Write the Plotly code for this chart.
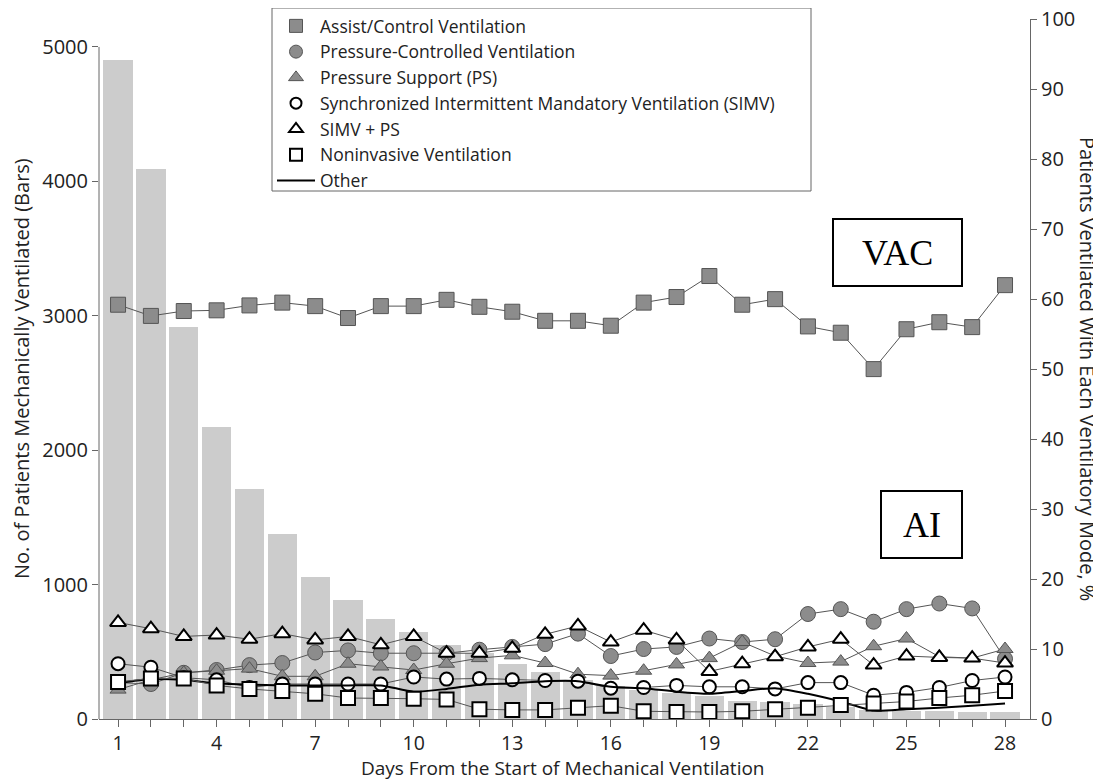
import plotly.graph_objects as go

days = list(range(1, 29))
tick_labels = [str(d) if (d - 1) % 3 == 0 else "" for d in days]
left_ticks = [0, 1000, 2000, 3000, 4000, 5000]
right_ticks = [0, 10, 20, 30, 40, 50, 60, 70, 80, 90, 100]

patients_bars = [4900, 4090, 2920, 2170, 1710, 1380, 1055, 888, 747, 645, 551, 490, 410, 347,
                 290, 245, 216, 191, 171, 136, 129, 112, 92, 67, 60, 58, 54, 54]

assist_control = [59.2, 57.6, 58.3, 58.4, 59.1, 59.5, 59.0, 57.3, 59.0, 59.0, 59.9, 58.9, 58.2, 56.9,
                  56.9, 56.2, 59.5, 60.3, 63.3, 59.2, 60.0, 56.1, 55.2, 50.0, 55.7, 56.7, 56.0, 62.0]
pressure_controlled = [5.2, 5.0, 6.6, 7.0, 7.7, 8.0, 9.5, 9.8, 9.4, 9.4, 9.4, 9.9, 10.3, 10.7,
                       12.2, 9.0, 10.0, 10.3, 11.5, 11.0, 11.4, 15.0, 15.7, 13.9, 15.7, 16.5, 15.8, 8.6]
pressure_support = [4.2, 5.6, 6.6, 6.9, 7.2, 6.1, 6.1, 7.9, 7.5, 7.0, 7.9, 8.7, 9.1, 8.0,
                    6.4, 6.2, 6.9, 7.8, 8.7, 11.0, 9.0, 8.0, 8.2, 10.4, 11.5, 8.9, 8.7, 10.0]
simv = [7.9, 7.4, 5.9, 5.6, 4.5, 5.0, 5.0, 5.0, 5.0, 6.0, 5.7, 5.8, 5.6, 5.5,
        5.4, 4.4, 4.5, 4.8, 4.6, 4.6, 4.3, 5.2, 5.2, 3.4, 3.8, 4.5, 5.5, 6.0]
simv_ps = [13.8, 12.9, 11.8, 12.0, 11.4, 12.2, 11.3, 11.8, 10.6, 11.8, 9.4, 9.4, 10.1, 12.1,
           13.3, 11.0, 12.7, 11.3, 6.8, 7.9, 8.9, 10.3, 11.4, 7.7, 9.0, 8.8, 8.7, 8.0]
noninvasive = [5.3, 5.8, 5.8, 4.8, 4.3, 4.0, 3.6, 3.0, 3.0, 2.9, 2.8, 1.4, 1.3, 1.3,
               1.6, 1.9, 1.1, 1.0, 1.0, 1.1, 1.4, 1.6, 2.0, 2.2, 2.5, 3.0, 3.4, 4.0]
other = [5.1, 5.7, 5.6, 5.1, 4.9, 4.8, 4.8, 4.8, 4.8, 3.9, 4.3, 4.9, 5.1, 5.4,
         5.4, 4.6, 4.4, 3.9, 3.6, 4.0, 4.4, 3.6, 2.5, 1.2, 1.4, 1.6, 1.9, 2.2]

GRAY_FILL = "#8c8c8c"
GRAY_EDGE = "#555555"
CONNECT = "#555555"
FONT = "Open Sans"
TXT = "#222222"

gray_marker = dict(color=GRAY_FILL, line=dict(color=GRAY_EDGE, width=1))
open_marker = dict(color="white", line=dict(color="black", width=2))

fig = go.Figure()
fig.add_trace(go.Bar(x=days, y=patients_bars, width=0.89, marker=dict(color="#cccccc", line=dict(width=0)),
                     showlegend=False, yaxis="y"))

def add_series(name, vals, sym, size, mk):
    fig.add_trace(go.Scatter(x=days, y=vals, mode="lines+markers", yaxis="y2", showlegend=False, name=name,
                             line=dict(color=CONNECT, width=1),
                             marker=dict(symbol=sym, size=size, **mk)))

add_series("Pressure-Controlled Ventilation", pressure_controlled, "circle", 15, gray_marker)
add_series("Pressure Support (PS)", pressure_support, "triangle-up", 14, gray_marker)
add_series("Synchronized Intermittent Mandatory Ventilation (SIMV)", simv, "circle", 13, open_marker)
fig.add_trace(go.Scatter(x=days, y=other, mode="lines", yaxis="y2", showlegend=False, name="Other",
                         line=dict(color="black", width=2, shape="spline", smoothing=0.6)))
add_series("SIMV + PS", simv_ps, "triangle-up", 14, open_marker)
add_series("Noninvasive Ventilation", noninvasive, "square", 14, open_marker)
add_series("Assist/Control Ventilation", assist_control, "square", 15, gray_marker)

# legend-only entries
legend_items = [
    ("Assist/Control Ventilation", "square", 13, gray_marker),
    ("Pressure-Controlled Ventilation", "circle", 13, gray_marker),
    ("Pressure Support (PS)", "triangle-up", 13, gray_marker),
    ("Synchronized Intermittent Mandatory Ventilation (SIMV)", "circle", 11, open_marker),
    ("SIMV + PS", "triangle-up", 12, open_marker),
    ("Noninvasive Ventilation", "square", 12, open_marker),
]
for name, sym, size, mk in legend_items:
    fig.add_trace(go.Scatter(x=[None], y=[None], mode="markers", name=name, yaxis="y2",
                             marker=dict(symbol=sym, size=size, **mk)))
fig.add_trace(go.Scatter(x=[None], y=[None], mode="lines", name="Other", yaxis="y2",
                         line=dict(color="black", width=2)))

# page-pixel -> paper conversions (paper spans page y 8..719, x 99..1030)
def px(xp):
    return (xp - 99) / 931

def py(yp):
    return (719 - yp) / 711

DOM_TOP = 700 / 711

fig.update_layout(
    width=1101, height=781,
    margin=dict(l=91, r=79, t=0, b=70),
    plot_bgcolor="white", paper_bgcolor="white",
    font=dict(family=FONT, size=20, color=TXT),
    bargap=0,
    xaxis=dict(range=[0.42, 28.76], tickmode="array", tickvals=days, ticktext=tick_labels,
               ticks="outside", ticklen=7, tickcolor="#666", showline=True, linecolor="#666",
               showgrid=False, zeroline=False, tickfont=dict(size=19.5, color=TXT), automargin=False),
    yaxis=dict(domain=[0, DOM_TOP], range=[0, 5208], tickmode="array", tickvals=left_ticks,
               ticks="outside", ticklen=6, tickcolor="#666", showline=False, showgrid=False, zeroline=False,
               tickfont=dict(size=20, color=TXT), automargin=False),
    yaxis2=dict(domain=[0, DOM_TOP], range=[0, 100.03], tickmode="array", tickvals=right_ticks,
                overlaying="y", side="right",
                ticks="outside", ticklen=6, tickcolor="#666", showline=True, linecolor="#666",
                showgrid=False, zeroline=False, tickfont=dict(size=20, color=TXT), automargin=False,
                ticklabeloverflow="allow"),
    legend=dict(x=px(272), y=1.0, xanchor="left", yanchor="top",
                borderwidth=0, bgcolor="rgba(0,0,0,0)",
                font=dict(size=17.5, color=TXT), itemwidth=38, tracegroupgap=0),
    shapes=[
        dict(type="line", xref="paper", yref="y", x0=0, x1=0, y0=0, y1=5000,
             line=dict(color="#666", width=1)),
        dict(type="rect", xref="paper", yref="paper", layer="below",
             x0=px(272), x1=px(811), y0=py(191), y1=py(8),
             line=dict(color="#666", width=1), fillcolor="white"),
        dict(type="rect", xref="paper", yref="paper",
             x0=px(833), x1=px(962), y0=py(286), y1=py(219),
             line=dict(color="black", width=2), fillcolor="white"),
        dict(type="rect", xref="paper", yref="paper",
             x0=px(881), x1=px(962), y0=py(558), y1=py(491),
             line=dict(color="black", width=2), fillcolor="white"),
    ],
    annotations=[
        dict(text="VAC", xref="paper", yref="paper", x=px(897.5), y=py(252.5),
             showarrow=False, font=dict(family="Liberation Serif", size=36, color="black"),
             xanchor="center", yanchor="middle"),
        dict(text="AI", xref="paper", yref="paper", x=px(921.5), y=py(524.5),
             showarrow=False, font=dict(family="Liberation Serif", size=36, color="black"),
             xanchor="center", yanchor="middle"),
        dict(text="Days From the Start of Mechanical Ventilation", xref="paper", yref="paper",
             x=px(563), y=py(768), showarrow=False, borderpad=0,
             font=dict(size=19, color=TXT), xanchor="center", yanchor="middle"),
        dict(text="No. of Patients Mechanically Ventilated (Bars)", xref="paper", yref="paper",
             x=px(21), y=py(369), textangle=-90, showarrow=False,
             font=dict(size=20, color=TXT), xanchor="center", yanchor="middle"),
        dict(text="Patients Ventilated With Each Ventilatory Mode, %", xref="paper", yref="paper",
             x=px(1088), y=py(369), textangle=90, showarrow=False,
             font=dict(size=20, color=TXT), xanchor="center", yanchor="middle"),
    ],
)

fig.write_html("out.html")
